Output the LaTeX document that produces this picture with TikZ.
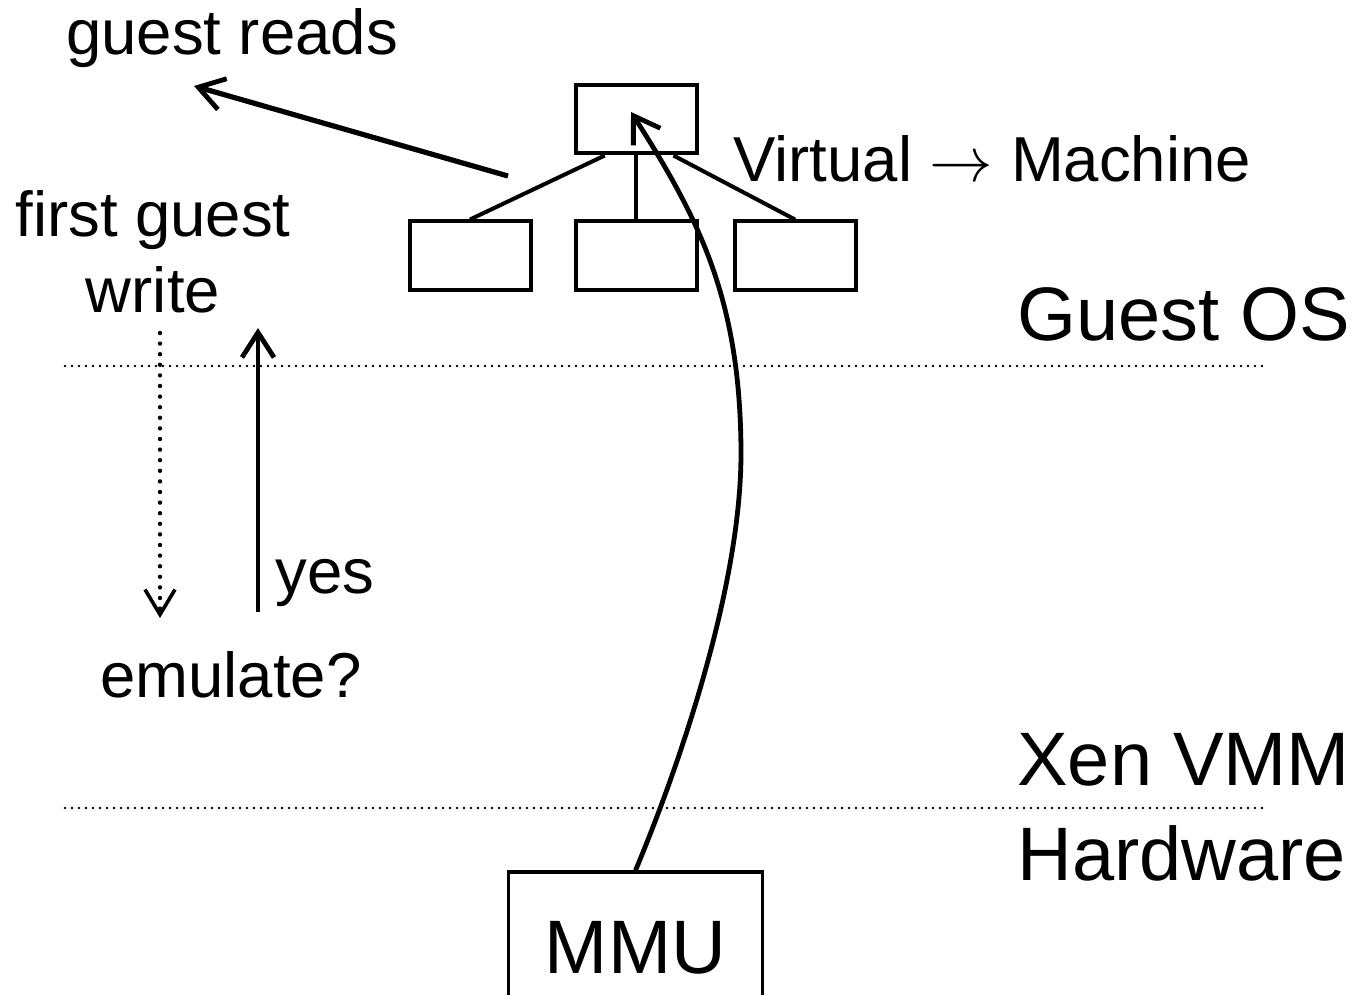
\RequirePackage{fix-cm}
\documentclass[tikz,border=0pt]{standalone}
\usepackage{fontspec}
\setmainfont{Liberation Sans}
\usetikzlibrary{arrows.meta,calc}
\tikzset{
  small/.style={font=\fontsize{31.75}{38.5}\selectfont, inner sep=0pt},
  big/.style={font=\fontsize{37.9}{45}\selectfont, inner sep=0pt},
  pgbox/.style={draw, line width=2pt, minimum width=60.5pt, minimum height=34pt, inner sep=0pt},
  treeline/.style={line width=2pt},
  layerline/.style={line width=1.4pt, line cap=round, dash pattern=on 0pt off 3.5pt},
  barb/.style={-{Straight Barb[length=12.5pt,width=16pt,line width=2.4pt]}, line width=2.4pt}
}
\begin{document}
\begin{tikzpicture}[x=0.5pt,y=-0.5pt]
\useasboundingbox (0,0) rectangle (1356,995);
% page table tree
\node[pgbox] (top) at (636,119.5) {};
\node[pgbox] (l1) at (470,255.5) {};
\node[pgbox] (l2) at (636,255.5) {};
\node[pgbox] (l3) at (795,255.5) {};
\draw[treeline] ($(top.south west)!0.25!(top.south east)$) -- (l1.north);
\draw[treeline] (top.south) -- (l2.north);
\draw[treeline] ($(top.south west)!0.8!(top.south east)$) -- (l3.north);
% labels
\node[small, anchor=base] (greads) at (232,55) {guest reads};
\node[small, anchor=base west] (vm) at (733,182) {Virtual $\rightarrow$ Machine};
\node[small, anchor=base, align=center] (fgw) at (153,313) {first guest\\write};
\node[small, anchor=base west] (yes) at (275,593) {yes};
\node[small, anchor=base] (emu) at (231,697) {emulate?};
\node[big, anchor=base west] (gos) at (1017,340) {Guest OS};
\node[big, anchor=base west] (xen) at (1017,785) {Xen VMM};
\node[big, anchor=base west] (hw) at (1017,880) {Hardware};
% layer lines
\coordinate (la) at (65,366); \coordinate (lb) at (1268,366);
\coordinate (lc) at (65,808); \coordinate (ld) at (1268,808);
\draw[layerline] (la) -- (lb);
\draw[layerline] (lc) -- (ld);
% MMU
\node[draw, line width=1.6pt, minimum width=127pt, minimum height=74pt, inner sep=0pt,
      big, text height=27pt, text depth=0pt] (mmu) at (635.5,946) {MMU};
% guest reads arrow
\coordinate (grtail) at (508,176);
\coordinate (grtip) at (194,86);
\draw[barb, line width=2.6pt] (grtail) -- (grtip);
% emulate arrows
\coordinate (dtop) at (160,333); \coordinate (dbot) at (160,618);
\draw[-{Straight Barb[length=12.5pt,width=15pt,line width=1.8pt]}, line width=2.2pt, line cap=round, dash pattern=on 0pt off 5.3pt] (dtop) -- (dbot);
\coordinate (ybot) at (258,612); \coordinate (ytop) at (258,328);
\draw[barb] (ybot) -- (ytop);
% hardware walk curve
\coordinate (ctip) at (631,112);
\draw[barb] (mmu.north) .. controls (665,800) and (742,600) .. (741,450)
   .. controls (740,300) and (700,220) .. (ctip);
\end{tikzpicture}
\end{document}
